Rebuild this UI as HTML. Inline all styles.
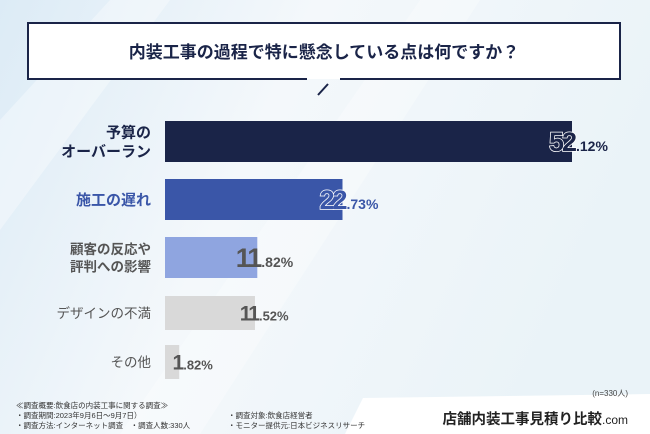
<!DOCTYPE html>
<html><head><meta charset="utf-8"><style>
html,body{margin:0;padding:0;width:650px;height:434px;overflow:hidden}
body{font-family:"Liberation Sans","Noto Sans CJK JP",sans-serif;}
svg text{font-family:"Liberation Sans","Noto Sans CJK JP",sans-serif;}
</style></head><body>
<svg width="650" height="434" viewBox="0 0 650 434">
<defs>
<linearGradient id="bg" x1="0" y1="0" x2="1" y2="0.3">
<stop offset="0" stop-color="#dcebf6"/><stop offset="0.45" stop-color="#f4f8fb"/><stop offset="1" stop-color="#eaf3f8"/>
</linearGradient>
</defs>
<rect width="650" height="434" fill="url(#bg)"/>
<polygon points="0,120 110,0 170,0 0,230" fill="#ffffff" opacity="0.35"/>
<polygon points="120,434 420,0 480,0 200,434" fill="#ffffff" opacity="0.3"/>
<polygon points="363,398 650,394 650,434 345,434" fill="#ffffff"/>
<g>
<rect x="28" y="23" width="592" height="56" fill="#ffffff"/>
<polyline points="307,79 28,79 28,23 620,23 620,79 340,79" fill="none" stroke="#1a2448" stroke-width="2"/>
<line x1="318" y1="95" x2="328" y2="84" stroke="#1a2448" stroke-width="2"/>
<text x="324" y="58" text-anchor="middle" font-size="17" font-weight="bold" fill="#1a2448">内装工事の過程で特に懸念している点は何ですか？</text>
</g>
<g id="bars"></g>
<text x="628" y="396" text-anchor="end" font-size="8" fill="#444">(n=330人)</text>
<g font-size="7.5" fill="#333">
<text x="16" y="408">≪調査概要:飲食店の内装工事に関する調査≫</text>
<text x="16" y="418">・調査期間:2023年9月6日〜9月7日）</text>
<text x="16" y="428">・調査方法:インターネット調査　・調査人数:330人</text>
<text x="228" y="418">・調査対象:飲食店経営者</text>
<text x="228" y="428">・モニター提供元:日本ビジネスリサーチ</text>
</g>
<text x="628" y="424" text-anchor="end" font-size="14.5" font-weight="bold" fill="#222">店舗内装工事見積り比較<tspan font-size="12" font-weight="normal">.com</tspan></text>
</svg>
<script>
const categories=[["予算の","オーバーラン"],["施工の遅れ"],["顧客の反応や","評判への影響"],["デザインの不満"],["その他"]];
const values=[52.12,22.73,11.82,11.52,1.82];
const valueLabels=["52.12%","22.73%","11.82%","11.52%","1.82%"];
const barColors=["#1a2448","#3a56a8","#8fa5e0","#d9d9d9","#d9d9d9"];
const labelColors=["#1a2448","#3a56a8","#555","#555","#555"];
const barTops=[121,179,237,296,345];
const barHeights=[41,41,41,34,34];
const x0=165, scale=407/52.12;
const xs=v=>x0+v*scale;
const NS="http://www.w3.org/2000/svg";
const g=document.getElementById('bars');
function mk(t,a){const e=document.createElementNS(NS,t);for(const k in a)e.setAttribute(k,a[k]);return e;}
values.forEach((v,i)=>{
  const y=barTops[i],h=barHeights[i],cy=y+h/2;
  const r=mk('rect',{x:x0,y:y,width:xs(v)-x0,height:h,fill:barColors[i]});
  
  
  g.appendChild(r);
  const lines=categories[i];
  const fs=i<2?15:13.5, fw=i<3?'bold':'normal';
  lines.forEach((ln,j)=>{
    const ty=cy+fs*0.38+(j-(lines.length-1)/2)*(fs+4);
    const t=mk('text',{x:151,y:ty,'text-anchor':'end','font-size':fs,'font-weight':fw,fill:labelColors[i]});
    t.textContent=ln;
    
    
    g.appendChild(t);
  });
  const parts=valueLabels[i].split('.');
  const big=i<3?27:21;
  const ex=xs(v)+3;
  const col=i<2?barColors[i]:'#555';
  const t=mk('text',{x:ex,y:cy+big*0.36,'text-anchor':'end','font-size':big,'font-weight':'bold',fill:col,stroke:i<2?'#fff':'none','stroke-width':1.5,'paint-order':'stroke','letter-spacing':'-2'});
  t.textContent=parts[0];
  
  
  g.appendChild(t);
  const d=mk('text',{x:ex+1,y:cy+big*0.36,'font-size':i<3?14:13,'font-weight':'bold',fill:col});
  d.textContent='.'+parts[1];
  
  
  g.appendChild(d);
});
</script>
</body></html>
